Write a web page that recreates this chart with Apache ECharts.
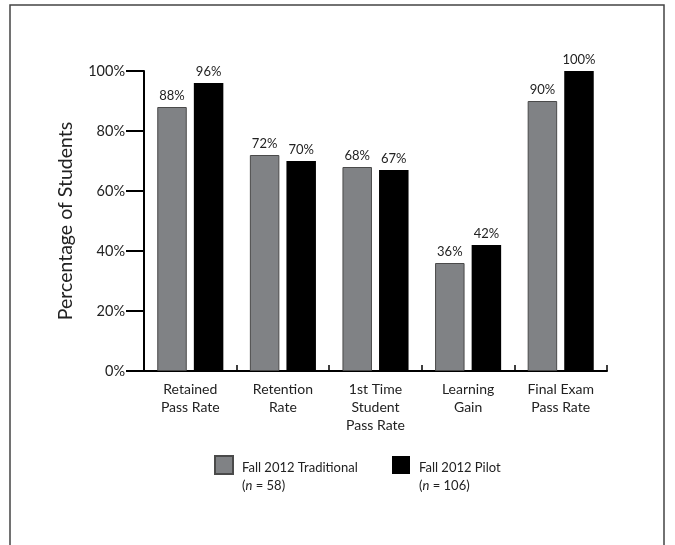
<!DOCTYPE html>
<html>
<head>
<meta charset="utf-8">
<script src="https://cdn.jsdelivr.net/npm/echarts@6/dist/echarts.min.js"></script>
<style>html,body{margin:0;padding:0;background:#fff}#c{width:675px;height:545px}</style>
</head>
<body>
<div id="c"></div>
<script>
var categories = ['Retained\nPass Rate', 'Retention\nRate', '1st Time\nStudent\nPass Rate', 'Learning\nGain', 'Final Exam\nPass Rate'];
var seriesNames = ['Fall 2012 Traditional', 'Fall 2012 Pilot'];
var sampleSizes = [58, 106];
var traditional = [88, 72, 68, 36, 90];
var pilot = [96, 70, 67, 42, 100];
var yTicks = [0, 20, 40, 60, 80, 100];

var FONT = 'Lato, "Open Sans", sans-serif';
var chart = echarts.init(document.getElementById('c'), null, {renderer: 'canvas'});

function legendFor(idx, left) {
  return {
    data: [seriesNames[idx]],
    left: left,
    top: 436,
    orient: 'horizontal',
    itemWidth: 18,
    itemHeight: 18,
    icon: 'rect',
    selectedMode: false,
    formatter: function (name) {
      return '{e| }\n{a|' + name + '}\n{b|(}{i|n}{b| = ' + sampleSizes[idx] + ')}';
    },
    textStyle: {
      fontFamily: FONT,
      color: '#222',
      padding: [0, 0, 0, 4],
      rich: {
        e: {fontSize: 13, lineHeight: 24, fontFamily: FONT},
        a: {fontSize: 13, lineHeight: 17.5, fontFamily: FONT, color: '#222'},
        b: {fontSize: 13, lineHeight: 17.5, fontFamily: FONT, color: '#222'},
        i: {fontSize: 13, lineHeight: 17.5, fontFamily: FONT, color: '#222', fontStyle: 'italic'}
      }
    }
  };
}

var option = {
  backgroundColor: '#fff',
  animation: false,
  textStyle: {fontFamily: FONT},
  graphic: [{
    type: 'rect',
    shape: {x: 10, y: 5, width: 654, height: 600},
    style: {fill: 'none', stroke: '#444', lineWidth: 1.5},
    silent: true
  }],
  legend: [legendFor(0, 209), legendFor(1, 387)],
  grid: {left: 144, right: 68, top: 71, bottom: 174, containLabel: false},
  xAxis: {
    type: 'category',
    data: categories,
    axisLine: {show: true, lineStyle: {color: '#000', width: 2}},
    axisTick: {show: true, inside: true, length: 6, lineStyle: {color: '#000', width: 1.5}},
    axisLabel: {interval: 0, margin: 9, fontSize: 14, lineHeight: 18.3, color: '#222', fontFamily: FONT},
    splitLine: {show: false}
  },
  yAxis: {
    type: 'value',
    min: 0,
    max: 100,
    interval: 20,
    name: 'Percentage of Students',
    nameLocation: 'middle',
    nameGap: 68,
    nameTextStyle: {fontSize: 19.5, color: '#222', fontFamily: FONT},
    axisLine: {show: true, lineStyle: {color: '#000', width: 2}},
    axisTick: {show: true, inside: false, length: 18, lineStyle: {color: '#000', width: 2}},
    axisLabel: {margin: 19, fontSize: 14.5, color: '#222', fontFamily: FONT, formatter: '{value}%'},
    splitLine: {show: false}
  },
  series: [{
    name: seriesNames[0],
    type: 'bar',
    data: traditional,
    barWidth: 29.5,
    barGap: '24%',
    itemStyle: {color: '#808285', borderColor: '#4a4a4a', borderWidth: 1},
    label: {show: true, position: 'top', distance: 5, formatter: '{c}%', fontSize: 13, color: '#222', fontFamily: FONT}
  }, {
    name: seriesNames[1],
    type: 'bar',
    data: pilot,
    barWidth: 29.5,
    barGap: '24%',
    itemStyle: {color: '#000', borderColor: '#000', borderWidth: 0},
    label: {show: true, position: 'top', distance: 5, formatter: '{c}%', fontSize: 13, color: '#222', fontFamily: FONT}
  }]
};
chart.setOption(option);
</script>
</body>
</html>
